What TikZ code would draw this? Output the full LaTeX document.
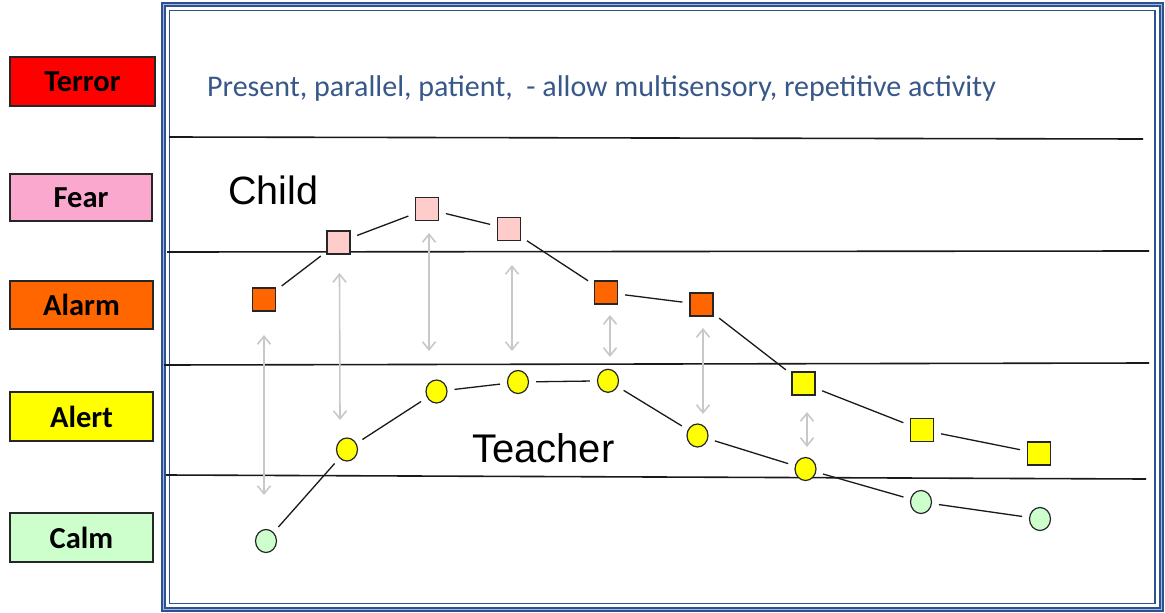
\documentclass[tikz,border=0pt]{standalone}
\usepackage{fontspec}
\setmainfont{Carlito}
\newfontfamily\arialfont{Liberation Sans}
\usetikzlibrary{shapes.geometric,arrows.meta}

\definecolor{framebl}{RGB}{44,82,145}
\definecolor{framelt}{RGB}{160,184,220}
\definecolor{headtxt}{RGB}{56,88,138}
\definecolor{terrorc}{RGB}{255,0,0}
\definecolor{fearc}{RGB}{250,168,206}
\definecolor{alarmc}{RGB}{255,102,0}
\definecolor{alertc}{RGB}{255,255,0}
\definecolor{calmc}{RGB}{204,255,204}
\definecolor{pinkc}{RGB}{255,204,204}
\definecolor{gapc}{RGB}{200,200,200}

\begin{document}
\begin{tikzpicture}[x=1pt,y=-1pt,
  lvl/.style={draw=black!85, line width=1.5pt, minimum width=143pt, minimum height=48pt,
    inner sep=0pt, font=\bfseries\fontsize{30.5}{32}\selectfont},
  csq/.style={rectangle, draw=black!85, line width=1.2pt, minimum size=23pt, inner sep=0pt},
  tdot/.style={ellipse, draw=black!85, line width=1.2pt, minimum width=21pt, minimum height=23pt, inner sep=0pt},
  link/.style={draw=black!90, line width=1.3pt, shorten >=7pt, shorten <=7pt},
  gaparrow/.style={draw=gapc, line width=1.6pt,
    {Straight Barb[length=8pt,width=13pt]}-{Straight Barb[length=8pt,width=13pt]}},
  band/.style={draw=black!90, line width=1.6pt}
]
% canvas
\fill[white] (0,0) rectangle (1165,613);
\useasboundingbox (0,0) rectangle (1165,613);

% triple-line frame
\draw[framebl, line width=5pt] (163.5,4.3) rectangle (1161,609);
\draw[framelt, line width=1pt] (163.5,4.3) rectangle (1161,609);
\draw[framebl, line width=1.3pt] (169.5,10.5) rectangle (1155,603.5);

% level bands
\draw[band] (169,137) -- (1143,139);
\draw[band] (167,252) -- (1149,251);
\draw[band] (164,365) -- (1149,363);
\draw[band] (166,475) -- (1146,479);

% arousal scale
\node[lvl, fill=terrorc, minimum width=145pt, minimum height=49pt] (terror) at (82.5,81.5) {Terror};
\node[lvl, fill=fearc, minimum width=142pt, minimum height=47pt] (fear) at (81,197.5) {Fear};
\node[lvl, fill=alarmc] (alarm) at (81.5,305) {Alarm};
\node[lvl, fill=alertc, minimum height=49pt] (alert) at (81.5,416.5) {Alert};
\node[lvl, fill=calmc, minimum height=49pt] (calm) at (81.5,537.5) {Calm};

% headings
\node[anchor=base west, inner sep=0pt, text=headtxt, font=\fontsize{30}{32}\selectfont] (advice) at (207,96)
  {Present, parallel, patient,\ \ - allow multisensory, repetitive activity};
\node[anchor=base west, inner sep=0pt, font=\arialfont\fontsize{39.5}{42}\selectfont] (childlbl) at (228,204) {Child};
\node[anchor=base west, inner sep=0pt, font=\arialfont\fontsize{40}{42}\selectfont] (teachlbl) at (472,462) {Teacher};

% child states
\node[csq, fill=alarmc] (s1) at (264,299.5) {};
\node[csq, fill=pinkc]  (s2) at (338.5,242.5) {};
\node[csq, fill=pinkc]  (s3) at (427,209) {};
\node[csq, fill=pinkc]  (s4) at (509,229) {};
\node[csq, fill=alarmc] (s5) at (606,292.5) {};
\node[csq, fill=alarmc] (s6) at (701.5,304.5) {};
\node[csq, fill=alertc] (s7) at (803.5,383.5) {};
\node[csq, fill=alertc] (s8) at (922,430) {};
\node[csq, fill=alertc] (s9) at (1039,453.5) {};

% teacher states
\node[tdot, fill=calmc]  (t1) at (266,541) {};
\node[tdot, fill=alertc] (t2) at (347,449.5) {};
\node[tdot, fill=alertc] (t3) at (436.5,391.5) {};
\node[tdot, fill=alertc] (t4) at (518,382) {};
\node[tdot, fill=alertc] (t5) at (608,380.8) {};
\node[tdot, fill=alertc] (t6) at (697.5,435.5) {};
\node[tdot, fill=alertc] (t7) at (805.5,469) {};
\node[tdot, fill=calmc]  (t8) at (921,502) {};
\node[tdot, fill=calmc]  (t9) at (1040,519) {};

% trajectories
\foreach \a/\b in {s1/s2,s2/s3,s3/s4,s4/s5,s5/s6,s6/s7,s7/s8,s8/s9,
                   t1/t2,t2/t3,t3/t4,t4/t5,t5/t6,t6/t7,t7/t8,t8/t9}
  \draw[link] (\a) -- (\b);

% distance between child and teacher
\coordinate (g1a) at (264,335);   \coordinate (g1b) at (264,495);
\coordinate (g2a) at (339.5,273); \coordinate (g2b) at (340,420);
\coordinate (g3a) at (429,233);   \coordinate (g3b) at (429,351);
\coordinate (g4a) at (512,265);   \coordinate (g4b) at (512,351);
\coordinate (g5a) at (610,315);   \coordinate (g5b) at (610,357);
\coordinate (g6a) at (703,328);   \coordinate (g6b) at (703,414);
\coordinate (g7a) at (807,412);   \coordinate (g7b) at (807,447);
\foreach \i in {1,...,7}
  \draw[gaparrow] (g\i a) -- (g\i b);
\end{tikzpicture}
\end{document}
